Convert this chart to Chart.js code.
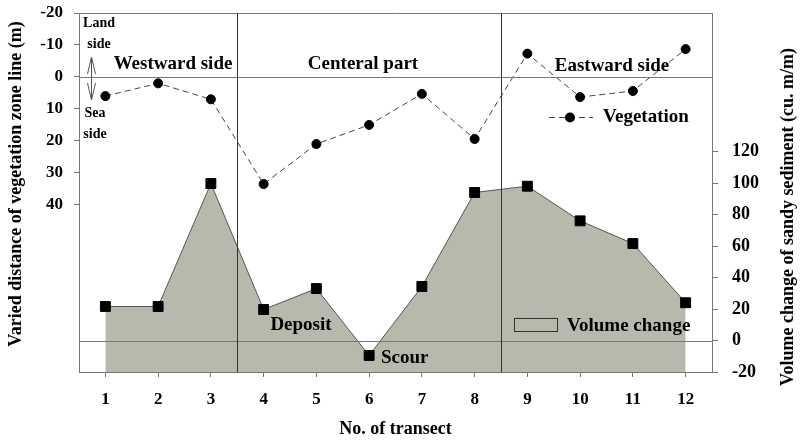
<!DOCTYPE html>
<html>
<head>
<meta charset="utf-8">
<script src="https://cdn.jsdelivr.net/npm/chart.js@4/dist/chart.umd.min.js"></script>
<style>
  html, body { margin: 0; padding: 0; background: #fff; }
  #wrap { width: 804px; height: 441px; }
</style>
</head>
<body>
<div id="wrap"><canvas id="chart" width="804" height="441"></canvas></div>
<script>
const transects = [1, 2, 3, 4, 5, 6, 7, 8, 9, 10, 11, 12];
const vegetation = [6, 2, 7, 33.5, 21, 15, 5.3, 19.4, -7.3, 6.3, 4.4, -8.7];
const volume = [21.6, 21.6, 99.7, 19.7, 33, -9.5, 34.3, 94, 98, 76, 61.6, 24];
const leftTicks = [-20, -10, 0, 10, 20, 30, 40];
const rightTicks = [-20, 0, 20, 40, 60, 80, 100, 120];
const dividers = [3.5, 8.5];

const SERIF = '"Liberation Serif", "Times New Roman", serif';
const FILL = '#b8b8ad';
const AXIS = '#777';

function font(size) {
  return 'bold ' + size + 'px ' + SERIF;
}

const annotations = {
  id: 'annotations',
  afterDatasetsDraw(chart) {
    const { ctx, chartArea: a, scales } = chart;
    const { x, y, y2 } = scales;
    ctx.save();

    // frame top + zero lines
    ctx.strokeStyle = AXIS;
    ctx.lineWidth = 1;
    ctx.beginPath();
    ctx.moveTo(a.left, a.top + 0.5);
    ctx.lineTo(a.right, a.top + 0.5);
    const z1 = Math.round(y.getPixelForValue(0)) + 0.5;
    const z2 = Math.round(y2.getPixelForValue(0)) + 0.5;
    ctx.moveTo(a.left, z1);
    ctx.lineTo(a.right, z1);
    ctx.moveTo(a.left, z2);
    ctx.lineTo(a.right, z2);
    ctx.stroke();

    // section dividers
    ctx.strokeStyle = '#333';
    ctx.beginPath();
    dividers.forEach(d => {
      const px = Math.round(x.getPixelForValue(d)) + 0.5;
      ctx.moveTo(px, a.top);
      ctx.lineTo(px, a.bottom);
    });
    ctx.stroke();

    // text
    ctx.fillStyle = '#000';
    ctx.textBaseline = 'middle';
    ctx.textAlign = 'center';
    ctx.font = font(14);
    ctx.fillText('Land', 99, 23);
    ctx.fillText('side', 99, 44);
    ctx.fillText('Sea', 95, 113);
    ctx.fillText('side', 95, 134);

    ctx.font = font(19);
    ctx.fillText('Westward side', 173, 64);
    ctx.fillText('Centeral part', 363, 64);
    ctx.fillText('Eastward side', 612, 66);
    ctx.fillText('Deposit', 301, 325);
    ctx.textAlign = 'left';
    ctx.fillText('Scour', 381, 358);

    // land/sea arrow
    ctx.strokeStyle = '#555';
    ctx.beginPath();
    ctx.moveTo(91.5, 57); ctx.lineTo(91.5, 100);
    ctx.moveTo(87.5, 74); ctx.lineTo(91.5, 57); ctx.lineTo(95.5, 74);
    ctx.moveTo(87.5, 83); ctx.lineTo(91.5, 100); ctx.lineTo(95.5, 83);
    ctx.stroke();

    // legend: vegetation
    ctx.strokeStyle = '#444';
    ctx.setLineDash([6, 4]);
    ctx.beginPath();
    ctx.moveTo(549, 117.5); ctx.lineTo(593, 117.5);
    ctx.stroke();
    ctx.setLineDash([]);
    ctx.fillStyle = '#000';
    ctx.beginPath();
    ctx.arc(570, 117.5, 5, 0, Math.PI * 2);
    ctx.fill();
    ctx.font = font(19);
    ctx.textAlign = 'left';
    ctx.fillText('Vegetation', 603, 117);

    // legend: volume change
    ctx.fillStyle = FILL;
    ctx.fillRect(514, 318, 44, 14);
    ctx.strokeStyle = '#333';
    ctx.strokeRect(514.5, 318.5, 43, 13);
    ctx.fillStyle = '#000';
    ctx.fillText('Volume change', 567, 326);

    // y axis titles
    ctx.textAlign = 'center';
    ctx.font = font(18);
    ctx.save();
    ctx.translate(16, 184);
    ctx.rotate(-Math.PI / 2);
    ctx.fillText('Varied distance of vegetation zone line (m)', 0, 0);
    ctx.restore();
    ctx.save();
    ctx.translate(788, 217);
    ctx.rotate(-Math.PI / 2);
    ctx.fillText('Volume change of sandy sediment (cu. m/m)', 0, 0);
    ctx.restore();

    ctx.restore();
  }
};

// fixed axis box sizes, no label overflow padding
function fixWidth(w) {
  return s => { s.width = w; s.paddingTop = 0; s.paddingBottom = 0; };
}

new Chart(document.getElementById('chart'), {
  type: 'line',
  data: {
    datasets: [
      {
        label: 'Vegetation',
        data: transects.map((t, i) => ({ x: t, y: vegetation[i] })),
        yAxisID: 'y',
        borderColor: '#444',
        borderWidth: 1,
        borderDash: [6, 4],
        pointRadius: 4.5,
        pointBackgroundColor: '#000',
        pointBorderColor: '#000',
        fill: false,
        tension: 0
      },
      {
        label: 'Volume change',
        data: transects.map((t, i) => ({ x: t, y: volume[i] })),
        yAxisID: 'y2',
        borderColor: '#555',
        borderWidth: 1,
        backgroundColor: FILL,
        fill: 'start',
        pointStyle: 'rect',
        pointRadius: 7,
        pointBackgroundColor: '#000',
        pointBorderColor: '#000',
        tension: 0
      }
    ]
  },
  options: {
    responsive: false,
    animation: false,
    layout: { padding: { top: 13, left: 0, right: 0, bottom: 0 } },
    plugins: { legend: { display: false }, tooltip: { enabled: false } },
    scales: {
      x: {
        type: 'linear',
        min: 0.5,
        max: 12.5,
        afterBuildTicks: s => { s.ticks = transects.map(v => ({ value: v })); },
        afterFit: s => { s.height = 69; s.paddingLeft = 0; s.paddingRight = 0; },
        grid: { drawOnChartArea: false, tickLength: 5, color: AXIS },
        border: { color: AXIS },
        ticks: { font: { family: SERIF, size: 17, weight: 'bold' }, color: '#000', padding: 12 },
        title: {
          display: true,
          text: 'No. of transect',
          font: { family: SERIF, size: 18, weight: 'bold' },
          color: '#000',
          padding: { top: 0, bottom: 1 }
        }
      },
      y: {
        position: 'left',
        reverse: true,
        min: -20,
        max: 92.3,
        afterBuildTicks: s => { s.ticks = leftTicks.map(v => ({ value: v })); },
        afterFit: fixWidth(79),
        grid: { drawOnChartArea: false, tickLength: 5, color: AXIS },
        border: { color: AXIS },
        ticks: { font: { family: SERIF, size: 17, weight: 'bold' }, color: '#000', padding: 11 }
      },
      y2: {
        position: 'right',
        min: -20,
        max: 208,
        afterBuildTicks: s => { s.ticks = rightTicks.map(v => ({ value: v })); },
        afterFit: fixWidth(92),
        grid: { drawOnChartArea: false, tickLength: 6, color: AXIS },
        border: { color: AXIS },
        ticks: { font: { family: SERIF, size: 18, weight: 'bold' }, color: '#000', padding: 14 }
      }
    }
  },
  plugins: [annotations]
});
</script>
</body>
</html>
